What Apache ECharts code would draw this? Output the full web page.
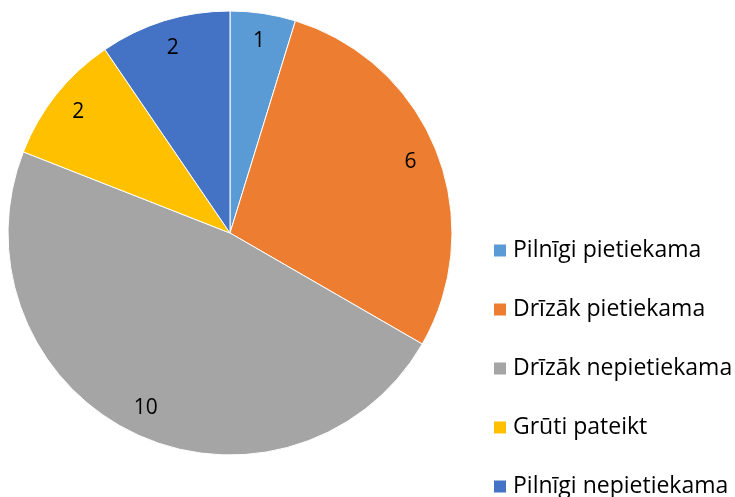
<!DOCTYPE html>
<html>
<head>
<meta charset="utf-8">
<script src="https://cdn.jsdelivr.net/npm/echarts@6/dist/echarts.min.js"></script>
<style>
  html, body { margin: 0; padding: 0; background: #fff; }
  #main { width: 735px; height: 497px; }
</style>
</head>
<body>
<div id="main"></div>
<script>
var categories = ["Pilnīgi pietiekama", "Drīzāk pietiekama", "Drīzāk nepietiekama", "Grūti pateikt", "Pilnīgi nepietiekama"];
var values = [1, 6, 10, 2, 2];
var colors = ["#5B9BD5", "#ED7D31", "#A5A5A5", "#FFC000", "#4472C4"];

var pieData = categories.map(function (name, i) {
  return { name: name, value: values[i] };
});

var myChart = echarts.init(document.getElementById("main"));

myChart.setOption({
  color: colors,
  textStyle: { fontFamily: "Open Sans" },
  legend: {
    type: "plain",
    orient: "vertical",
    left: 492,
    top: 239,
    height: 260,
    padding: 0,
    itemWidth: 14,
    itemHeight: 14,
    itemGap: 36,
    icon: "rect",
    textStyle: { fontSize: 23, color: "#000", padding: [0, 0, 0, 1] },
    data: categories
  },
  series: [
    {
      // pašas šķēles
      type: "pie",
      center: [230, 233],
      radius: [0, 222],
      startAngle: 90,
      clockwise: true,
      animation: false,
      itemStyle: { borderColor: "#fff", borderWidth: 1 },
      label: { show: false },
      labelLine: { show: false },
      emphasis: { disabled: true },
      data: pieData
    },
    {
      // caurspīdīgs gredzens tikai etiķetēm
      type: "pie",
      center: [230, 233],
      radius: [160, 222],
      startAngle: 90,
      clockwise: true,
      animation: false,
      silent: true,
      legendHoverLink: false,
      itemStyle: { color: "transparent", borderWidth: 0 },
      label: {
        show: true,
        position: "inside",
        formatter: "{c}",
        fontSize: 21,
        color: "#000"
      },
      labelLine: { show: false },
      data: pieData
    }
  ]
});
</script>
</body>
</html>
